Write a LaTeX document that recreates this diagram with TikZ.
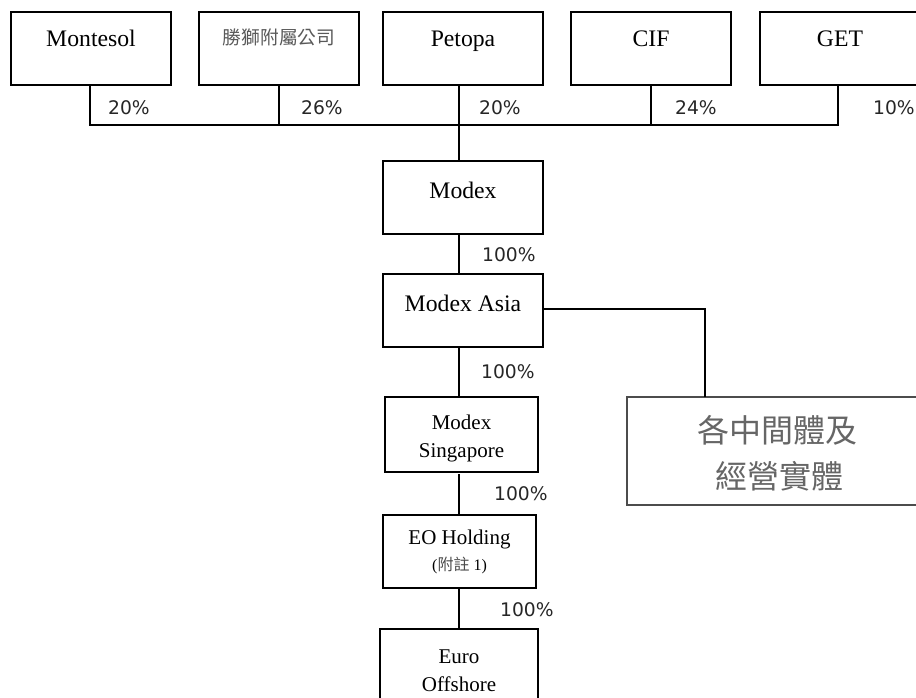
\documentclass[tikz,border=0pt]{standalone}
\usepackage{fontspec}
\setmainfont{Liberation Serif}
\newfontfamily\cjk{Noto Sans CJK TC}
\newfontfamily\pctfont{DejaVu Sans}
\tikzset{
  x=1pt,y=-1pt,
  box/.style={draw=black,line width=1.2pt,fill=white,inner sep=0pt,outer sep=0pt,anchor=north west,align=center,font=\fontsize{21}{28}\selectfont,text=black},
  wide/.style={minimum width=160pt,minimum height=73pt},
  oneline/.style={inner ysep=0pt,text height=34pt,text depth=39pt},
  lower/.style={inner ysep=0pt,text height=37pt,text depth=36pt},
  big/.style={font=\fontsize{23.7}{27}\selectfont},
  pct/.style={inner sep=0pt,anchor=base west,font=\pctfont\fontsize{18.7}{22}\selectfont,text=black!85},
  link/.style={draw=black,line width=1.2pt},
}
\begin{document}
\begin{tikzpicture}
\useasboundingbox (0,0) rectangle (916,697);
\clip (0,0) rectangle (916,697);
% owners
\node[box,wide,oneline,big] (montesol) at (11,12) {Montesol};
\node[box,wide,inner ysep=0pt,text height=32pt,text depth=41pt,font=\cjk\fontsize{18.7}{22}\selectfont,text=black!65] (sheng) at (199,12) {勝獅附屬公司};
\node[box,wide,oneline,big] (petopa) at (383,12) {Petopa};
\node[box,wide,oneline,big] (cif) at (571,12) {CIF};
\node[box,wide,oneline,big] (get) at (760,12) {GET};
% chain
\node[box,wide,lower,big] (modex) at (383,161) {Modex};
\node[box,wide,lower,big] (asia) at (383,274) {Modex Asia};
\node[box,minimum width=153pt,minimum height=75pt] (sing) at (385,397) {\rule{0pt}{22pt}Modex\\Singapore};
\node[box,minimum width=153pt,minimum height=73pt] (eo) at (383,515) {EO Holding\\[-2pt]{\fontsize{16}{19}\selectfont (\textcolor{black!70}{\cjk 附註} 1)}};
\node[box,minimum width=158pt,minimum height=84pt] (euro) at (380,629) {Euro\\Offshore};
\node[box,draw=black!70,minimum width=300pt,minimum height=108pt,font=\cjk\fontsize{32}{46}\selectfont,text=black!60,text width=290pt,align=left] (ops) at (627,397) {\rule{0pt}{31pt}\hspace*{65pt}各中間體及\\\hspace*{83pt}經營實體};
% connectors
\coordinate (busL) at (90,125);
\coordinate (busS) at (279,125);
\coordinate (busM) at (459,125);
\coordinate (busC) at (651,125);
\coordinate (busR) at (838,125);
\coordinate (elbow) at (705,309);
\draw[link] (montesol.south -| busL) -- (busL) -- (busR) -- (get.south -| busR);
\draw[link] (sheng.south -| busS) -- (busS);
\draw[link] (petopa.south -| busM) -- (modex.north -| busM);
\draw[link] (cif.south -| busC) -- (busC);
\draw[link] (modex.south -| busM) -- (asia.north -| busM);
\draw[link] (asia.south -| busM) -- (sing.north -| busM);
\draw[link] ([yshift=-2pt]sing.south -| busM) -- (eo.north -| busM);
\draw[link] (eo.south -| busM) -- (euro.north -| busM);
\draw[link] (asia.east |- elbow) -- (elbow) -- (ops.north -| elbow);
% percentages
\node[pct] (p1) at (108,114) {20\%};
\node[pct] (p2) at (301,114) {26\%};
\node[pct] (p3) at (479,114) {20\%};
\node[pct] (p4) at (675,114) {24\%};
\node[pct] (p5) at (873,114) {10\%};
\node[pct] (p6) at (482,261) {100\%};
\node[pct] (p7) at (481,378) {100\%};
\node[pct] (p8) at (494,500) {100\%};
\node[pct] (p9) at (500,616) {100\%};
\end{tikzpicture}
\end{document}
